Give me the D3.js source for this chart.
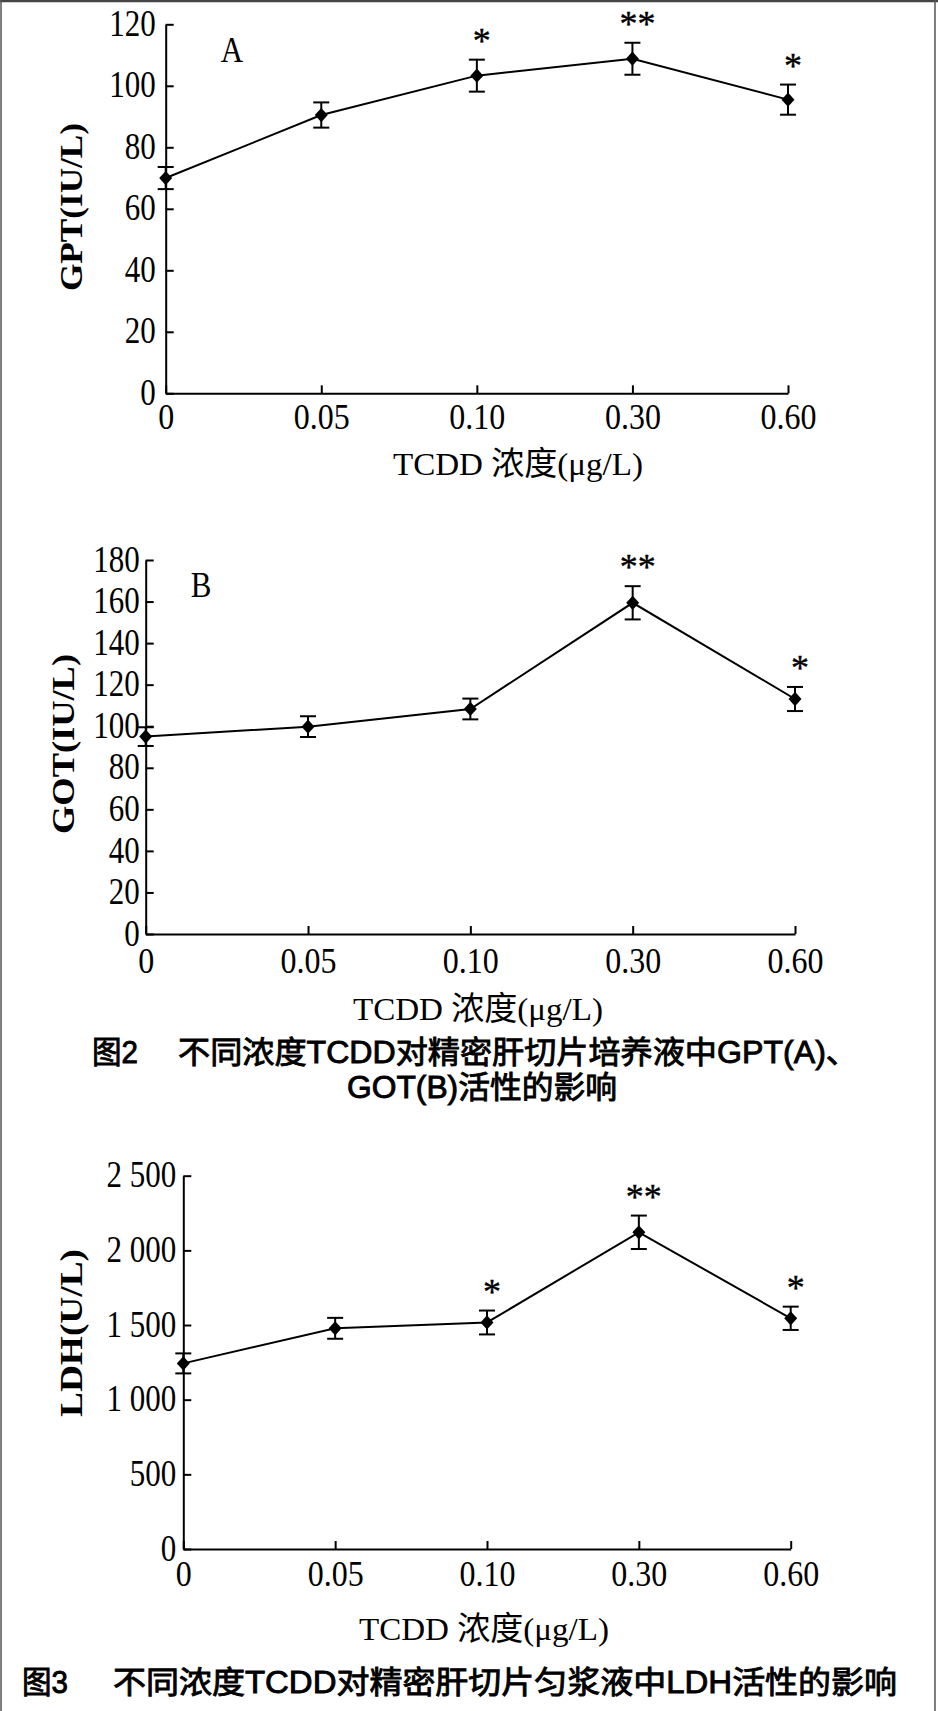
<!DOCTYPE html>
<html><head><meta charset="utf-8">
<script src="https://cdn.jsdelivr.net/npm/d3@7"></script>
<style>body{margin:0;background:#fff}svg{display:block}</style>
</head><body>
<svg id="c" width="938" height="1711"></svg>
<script>
// ---------- data ----------
const categories = ["0", "0.05", "0.10", "0.30", "0.60"];

const gptMean = [70.0, 90.5, 103.3, 108.8, 95.5];
const gptErr  = [3.6, 4.1, 5.2, 5.2, 4.9];
const gptSig  = ["", "", "*", "**", "*"];
const gptTicks = [0, 20, 40, 60, 80, 100, 120];
const gptTickLabels = ["0", "20", "40", "60", "80", "100", "120"];

const gotMean = [95.0, 99.8, 108.3, 159.4, 113.1];
const gotErr  = [4.5, 5.0, 5.0, 8.0, 5.8];
const gotSig  = ["", "", "", "**", "*"];
const gotTicks = [0, 20, 40, 60, 80, 100, 120, 140, 160, 180];
const gotTickLabels = ["0", "20", "40", "60", "80", "100", "120", "140", "160", "180"];

const ldhMean = [1243, 1478, 1517, 2121, 1545];
const ldhErr  = [67, 70, 80, 112, 78];
const ldhSig  = ["", "", "*", "**", "*"];
const ldhTicks = [0, 500, 1000, 1500, 2000, 2500];
const ldhTickLabels = ["0", "500", "1 000", "1 500", "2 000", "2 500"];

const xTitle = "TCDD 浓度(μg/L)";
const caption2a = ["图2", "不同浓度TCDD对精密肝切片培养液中GPT(A)、"];
const caption2b = "GOT(B)活性的影响";
const caption3  = ["图3", "不同浓度TCDD对精密肝切片匀浆液中LDH活性的影响"];

// ---------- layout ----------
const SERIF = "'Liberation Serif','Times New Roman','Noto Sans CJK SC',serif";
const SANS = "'Liberation Sans',Arial,'Noto Sans CJK SC',sans-serif";
const XSTRETCH = 1.12, YSTRETCH = 1.2;

const panels = [
  {mean: gptMean, err: gptErr, sig: gptSig, ticks: gptTicks, labels: gptTickLabels, max: 120,
   title: "GPT(IU/L)", letter: "A",
   x0: 165.7, x1: 788, yT: 24.3, y0: 393.3, yPad: 10, xPad: 10,
   ytx: 71, yty: 207, ytLen: 168, xtx: 518, xty: 475, ltx: 232, lty: 62},
  {mean: gotMean, err: gotErr, sig: gotSig, ticks: gotTicks, labels: gotTickLabels, max: 180,
   title: "GOT(IU/L)", letter: "B",
   x0: 145.7, x1: 795, yT: 560, y0: 934, yPad: 6, xPad: 13.5,
   ytx: 63, yty: 744, ytLen: 180, xtx: 478, xty: 1020, ltx: 201, lty: 597},
  {mean: ldhMean, err: ldhErr, sig: ldhSig, ticks: ldhTicks, labels: ldhTickLabels, max: 2500,
   title: "LDH(U/L)", letter: null,
   x0: 183.3, x1: 790.7, yT: 1175.7, y0: 1549, yPad: 7, xPad: 12,
   ytx: 71, yty: 1333, ytLen: 168, xtx: 484, xty: 1640}
];

const svg = d3.select("#c");
svg.append("rect").attr("width", 938).attr("height", 1711).attr("fill", "#fff");

const diamond = {
  draw(ctx, size) {
    const r = Math.sqrt(size);
    ctx.moveTo(0, -r * 1.1); ctx.lineTo(r, 0); ctx.lineTo(0, r * 1.1); ctx.lineTo(-r, 0); ctx.closePath();
  }
};

function drawPanel(p) {
  const g = svg.append("g");
  const x = d3.scalePoint().domain(categories).range([p.x0, p.x1]).padding(0);
  const y = d3.scaleLinear().domain([0, p.max]).range([p.y0, p.yT]);

  const gx = g.append("g").attr("transform", `translate(0,${p.y0})`)
    .call(d3.axisBottom(x).tickSize(-8).tickSizeOuter(0).tickPadding(p.xPad / XSTRETCH));
  const gy = g.append("g").attr("transform", `translate(${p.x0},0)`)
    .call(d3.axisLeft(y).tickValues(p.ticks).tickFormat((d, i) => p.labels[i])
      .tickSize(-8).tickSizeOuter(0).tickPadding(p.yPad));
  [gx, gy].forEach(a => {
    a.select(".domain").attr("stroke", "#000").attr("stroke-width", 2);
    a.selectAll(".tick line").attr("stroke", "#000").attr("stroke-width", 2);
  });
  gx.selectAll(".tick text").attr("font-family", SERIF).attr("font-size", 32).attr("fill", "#000")
    .attr("transform", `scale(1,${XSTRETCH})`);
  gy.selectAll(".tick text").attr("font-family", SERIF).attr("font-size", 31).attr("fill", "#000")
    .attr("transform", `scale(1,${YSTRETCH})`).attr("dy", "0.3em");

  // line
  g.append("path").datum(p.mean)
    .attr("fill", "none").attr("stroke", "#000").attr("stroke-width", 2)
    .attr("d", d3.line().x((d, i) => x(categories[i])).y(d => y(d)));

  // error bars
  const eb = g.append("g").attr("stroke", "#000").attr("stroke-width", 2);
  p.mean.forEach((m, i) => {
    const cx = x(categories[i]);
    eb.append("line").attr("x1", cx).attr("x2", cx).attr("y1", y(m - p.err[i])).attr("y2", y(m + p.err[i]));
    eb.append("line").attr("x1", cx - 8).attr("x2", cx + 8).attr("y1", y(m - p.err[i])).attr("y2", y(m - p.err[i]));
    eb.append("line").attr("x1", cx - 8).attr("x2", cx + 8).attr("y1", y(m + p.err[i])).attr("y2", y(m + p.err[i]));
  });

  // markers
  g.selectAll(".pt").data(p.mean).enter().append("path")
    .attr("d", d3.symbol().type(diamond).size(42))
    .attr("transform", (d, i) => `translate(${x(categories[i])},${y(d)})`)
    .attr("fill", "#000");

  // significance
  g.selectAll(".sig").data(p.sig).enter().append("text")
    .attr("x", (d, i) => x(categories[i]) + 5)
    .attr("y", (d, i) => y(p.mean[i] + p.err[i]) - 7)
    .attr("text-anchor", "middle").attr("font-family", SERIF).attr("font-size", 36)
    .attr("stroke", "#000").attr("stroke-width", 0.4)
    .text(d => d);

  // titles
  g.append("text")
    .attr("transform", `translate(${p.ytx},${p.yty}) rotate(-90)`)
    .attr("text-anchor", "middle").attr("dy", "0.35em")
    .attr("font-family", SERIF).attr("font-weight", "bold").attr("font-size", 32)
    .attr("textLength", p.ytLen).attr("lengthAdjust", "spacingAndGlyphs")
    .text(p.title);
  g.append("text")
    .attr("transform", `translate(${p.xtx},${p.xty}) scale(1,1.05)`)
    .attr("text-anchor", "middle")
    .attr("font-family", SERIF).attr("font-size", 31)
    .attr("textLength", 250).attr("lengthAdjust", "spacingAndGlyphs")
    .text(xTitle);
  if (p.letter) {
    g.append("text").attr("transform", `translate(${p.ltx},${p.lty}) scale(1,1.15)`)
      .attr("text-anchor", "middle")
      .attr("font-family", SERIF).attr("font-size", 31).text(p.letter);
  }
}
panels.forEach(drawPanel);

// captions
function cap(txt, x, y, len, anchor) {
  const t = svg.append("text").attr("x", x).attr("y", y)
    .attr("font-family", SANS).attr("font-weight", "normal").attr("font-size", 31)
    .attr("stroke", "#000").attr("stroke-width", 0.9)
    .attr("text-anchor", anchor || "start").text(txt);
  if (len) t.attr("textLength", len).attr("lengthAdjust", "spacingAndGlyphs");
  return t;
}
cap(caption2a[0], 92, 1063, 46);
cap(caption2a[1], 178, 1063, 680);
cap(caption2b, 482, 1098, 270, "middle");
cap(caption3[0], 22, 1693, 46);
cap(caption3[1], 113, 1693, 784);

// frame
const fr = svg.append("g").attr("stroke", "#555").attr("stroke-width", 1.5);
fr.append("line").attr("x1", 0).attr("x2", 938).attr("y1", 1).attr("y2", 1).attr("stroke-width", 2.5).attr("stroke", "#444");
fr.append("line").attr("x1", 1).attr("x2", 1).attr("y1", 0).attr("y2", 1711);
fr.append("line").attr("x1", 935).attr("x2", 935).attr("y1", 0).attr("y2", 1711);
</script>
</body></html>
